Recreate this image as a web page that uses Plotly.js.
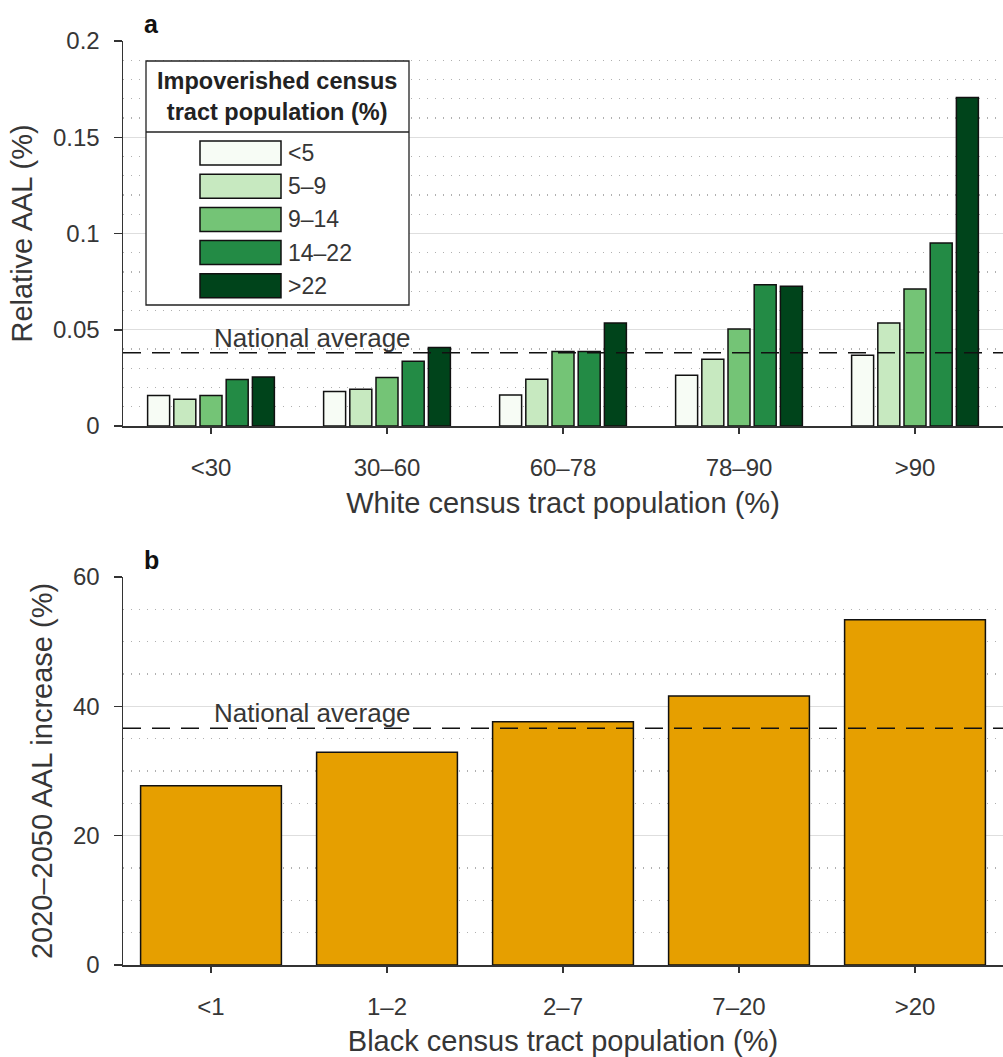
<!DOCTYPE html>
<html>
<head>
<meta charset="utf-8">
<script src="https://cdn.plot.ly/plotly-3.0.1.min.js"></script>
<style>html,body{margin:0;padding:0;background:#fff;}#chart{width:1003px;height:1057px;}</style>
</head>
<body>
<div id="chart"></div>
<script>
// ---- data ----
const whiteCats = ['<30', '30–60', '60–78', '78–90', '>90'];
const povertyLabels = ['<5', '5–9', '9–14', '14–22', '>22'];
const povertyColors = ['#f7fcf5', '#c7e9c0', '#74c476', '#238b45', '#00441b'];
const relAAL_lt5   = [0.0158, 0.0179, 0.0161, 0.0264, 0.0368];
const relAAL_5_9   = [0.0139, 0.0191, 0.0243, 0.0347, 0.0535];
const relAAL_9_14  = [0.0158, 0.0252, 0.0387, 0.0504, 0.0712];
const relAAL_14_22 = [0.0241, 0.0337, 0.0387, 0.0734, 0.0951];
const relAAL_gt22  = [0.0254, 0.0408, 0.0535, 0.0726, 0.1707];
const nationalAvgA = 0.038;
const yTicksA = [0, 0.05, 0.1, 0.15, 0.2];
const yTickTextA = ['0', '0.05', '0.1', '0.15', '0.2'];

const blackCats = ['<1', '1–2', '2–7', '7–20', '>20'];
const aalIncrease = [27.7, 32.9, 37.6, 41.6, 53.4];
const nationalAvgB = 36.6;

// ---- layout geometry ----
const W = 1003, H = 1057, ML = 123, MR = 0, MT = 41, MB = 92;
const PW = W - ML - MR, PH = H - MT - MB;
const X = px => (px - ML) / PW;
const Y = py => (H - MB - py) / PH;

const FONT = 'Liberation Sans, Arial, sans-serif';
const TXT = '#363636';

const seriesA = [relAAL_lt5, relAAL_5_9, relAAL_9_14, relAAL_14_22, relAAL_gt22];
const traces = seriesA.map((vals, i) => ({
  type: 'bar', x: whiteCats, y: vals, name: povertyLabels[i],
  xaxis: 'x', yaxis: 'y',
  marker: {color: povertyColors[i], line: {color: '#111', width: 1.5}},
  showlegend: false, hoverinfo: 'x+y'
}));
traces.push({
  type: 'bar', x: blackCats, y: aalIncrease, xaxis: 'x2', yaxis: 'y2', width: 0.8,
  marker: {color: '#E69F00', line: {color: '#111', width: 1.5}},
  showlegend: false
});

const axisCommon = {
  showline: true, linecolor: '#333', linewidth: 1.5, mirror: false,
  ticks: 'outside', tickcolor: '#333', tickwidth: 1.5,
  tickfont: {family: FONT, size: 24, color: TXT},
  zeroline: false
};
const gridMinor = {showgrid: true, gridcolor: '#b0b0b0', griddash: '1px,7px', gridwidth: 1.2, ticks: ''};

const shapes = [
  {type: 'line', xref: 'x domain', yref: 'y', x0: 0, x1: 1, y0: nationalAvgA, y1: nationalAvgA,
   line: {color: '#111', width: 1.5, dash: '18px,11px'}},
  {type: 'line', xref: 'x2 domain', yref: 'y2', x0: 0, x1: 1, y0: nationalAvgB, y1: nationalAvgB,
   line: {color: '#111', width: 1.5, dash: '18px,11px'}},
  // legend frame
  {type: 'rect', xref: 'paper', yref: 'paper', x0: X(146), x1: X(409), y0: Y(305), y1: Y(61),
   fillcolor: '#fff', line: {color: '#222', width: 1.3}},
  {type: 'line', xref: 'paper', yref: 'paper', x0: X(146), x1: X(409), y0: Y(132), y1: Y(132),
   line: {color: '#222', width: 1.3}}
];
const annotations = [
  {xref: 'paper', yref: 'paper', x: X(142), y: Y(24), text: '<b>a</b>', showarrow: false,
   xanchor: 'left', yanchor: 'middle', font: {family: FONT, size: 25, color: '#111'}},
  {xref: 'paper', yref: 'paper', x: X(142), y: Y(560), text: '<b>b</b>', showarrow: false,
   xanchor: 'left', yanchor: 'middle', font: {family: FONT, size: 25, color: '#111'}},
  {xref: 'x domain', yref: 'y', x: X(212), y: nationalAvgA, text: 'National average', showarrow: false,
   xanchor: 'left', yanchor: 'bottom', yshift: -2, font: {family: FONT, size: 26, color: TXT}},
  {xref: 'x2 domain', yref: 'y2', x: X(212), y: nationalAvgB, text: 'National average', showarrow: false,
   xanchor: 'left', yanchor: 'bottom', yshift: -2, font: {family: FONT, size: 26, color: TXT}},
  {xref: 'paper', yref: 'paper', x: X(277), y: Y(97), text: '<b>Impoverished census<br>tract population (%)</b>',
   showarrow: false, xanchor: 'center', yanchor: 'middle', font: {family: FONT, size: 23.5, color: '#222'}}
];
povertyLabels.forEach((lab, i) => {
  const cy = 153 + i * 33.2;
  shapes.push({type: 'rect', xref: 'paper', yref: 'paper', x0: X(200), x1: X(281), y0: Y(cy + 12), y1: Y(cy - 12),
    fillcolor: povertyColors[i], line: {color: '#111', width: 1.5}});
  annotations.push({xref: 'paper', yref: 'paper', x: X(286), y: Y(cy), text: lab, showarrow: false,
    xanchor: 'left', yanchor: 'middle', font: {family: FONT, size: 23, color: TXT}});
});

const layout = {
  width: W, height: H,
  margin: {l: ML, r: MR, t: MT, b: MB, pad: 0},
  paper_bgcolor: '#fff', plot_bgcolor: '#fff',
  barmode: 'group', bargap: 0.256, bargroupgap: 0.16,
  showlegend: false,
  font: {family: FONT, color: TXT},
  xaxis: Object.assign({}, axisCommon, {
    domain: [0, 1], anchor: 'y', type: 'category', ticklen: 6, ticklabelstandoff: 14,
    showgrid: false,
    title: {text: 'White census tract population (%)', font: {family: FONT, size: 29, color: TXT}, standoff: 12}
  }),
  yaxis: Object.assign({}, axisCommon, {
    domain: [Y(426), 1], anchor: 'x', range: [0, 0.2], tickvals: yTicksA, ticktext: yTickTextA,
    ticklen: 8, ticklabelstandoff: 9,
    showgrid: true, gridcolor: '#dedede', gridwidth: 1.2,
    minor: Object.assign({dtick: 0.01, tick0: 0}, gridMinor),
    title: {text: 'Relative AAL (%)', font: {family: FONT, size: 29, color: TXT}, standoff: 12}
  }),
  xaxis2: Object.assign({}, axisCommon, {
    domain: [0, 1], anchor: 'y2', type: 'category', ticklen: 6, ticklabelstandoff: 14,
    showgrid: false,
    title: {text: 'Black census tract population (%)', font: {family: FONT, size: 29, color: TXT}, standoff: 11}
  }),
  yaxis2: Object.assign({}, axisCommon, {
    domain: [0, Y(577)], anchor: 'x2', range: [0, 60], dtick: 20, tick0: 0, ticklen: 8, ticklabelstandoff: 9,
    showgrid: true, gridcolor: '#dedede', gridwidth: 1.2,
    minor: Object.assign({dtick: 5, tick0: 0}, gridMinor),
    title: {text: '2020–2050 AAL increase (%)', font: {family: FONT, size: 29, color: TXT}, standoff: 12}
  }),
  shapes: shapes,
  annotations: annotations
};

Plotly.newPlot('chart', traces, layout, {displayModeBar: false, staticPlot: true});
</script>
</body>
</html>
